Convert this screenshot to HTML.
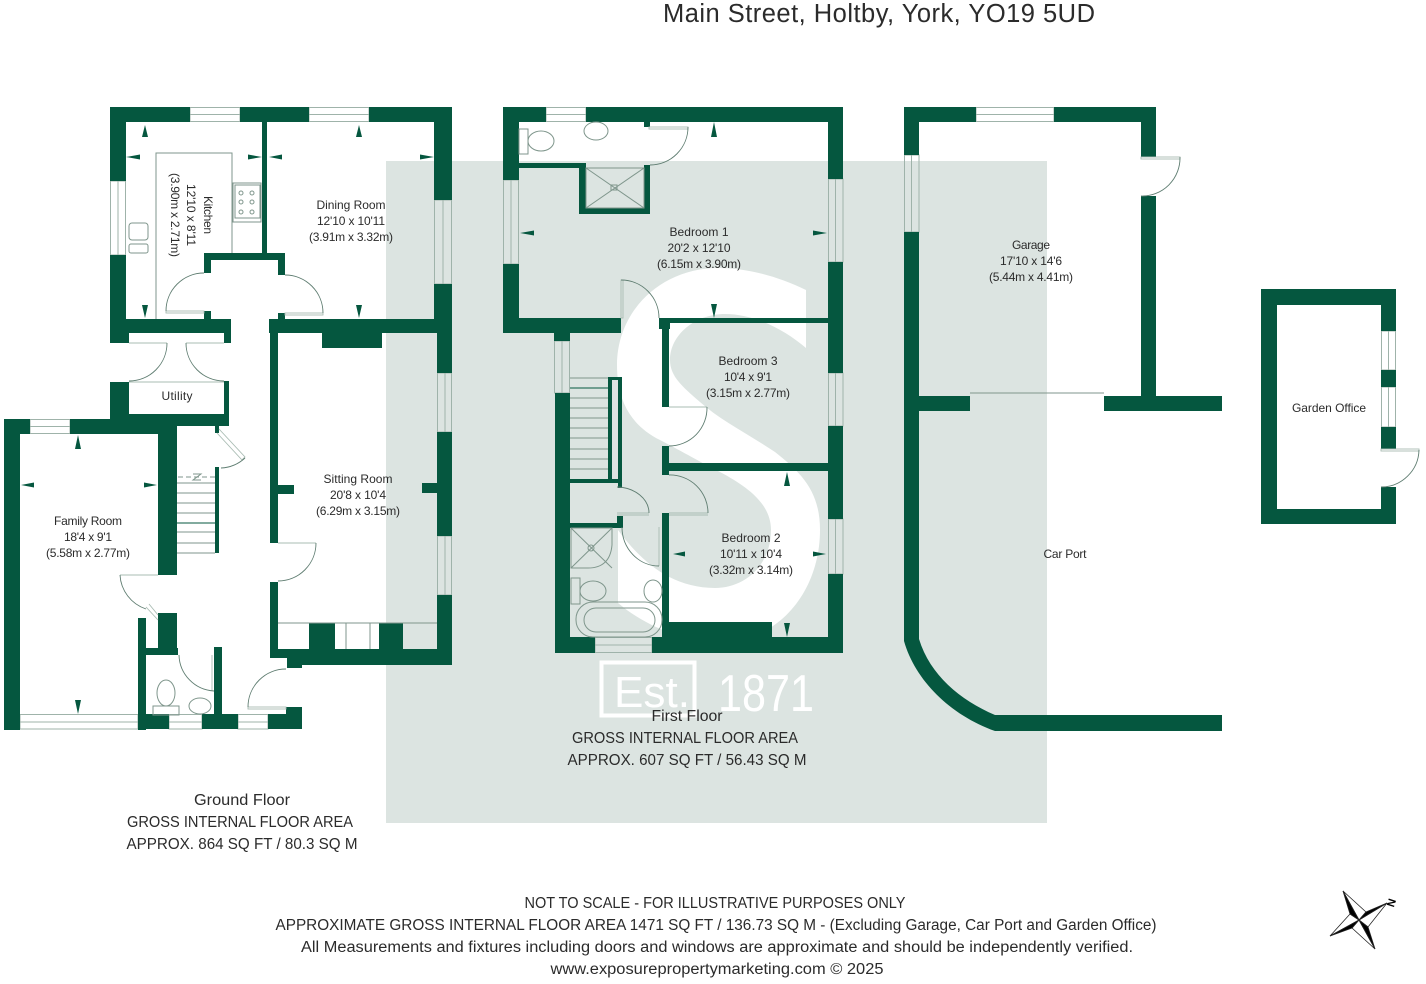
<!DOCTYPE html>
<html lang="en">
<head>
<meta charset="utf-8">
<title>Main Street, Holtby, York, YO19 5UD</title>
<style>
html,body{margin:0;padding:0;background:#fff;width:1426px;height:984px;overflow:hidden}
svg{display:block}
text{font-family:"Liberation Sans",sans-serif;fill:#2b2b2b;text-anchor:middle}
.r{font-size:12px}
.b{font-size:15.5px}
.t{fill:none;stroke:#7f968c;stroke-width:1}
.d{fill:none;stroke:#5f7d71;stroke-width:.9}
.l{fill:none;stroke:#a9bcb3;stroke-width:.9}
.w{fill:none;stroke:#9fb3aa;stroke-width:1}
</style>
</head>
<body>
<svg width="1426" height="984" viewBox="0 0 1426 984" xmlns="http://www.w3.org/2000/svg">
<rect width="1426" height="984" fill="#fff"/>
<rect x="386" y="161" width="661" height="662" fill="#dce4e1"/>

<!-- S watermark -->
<path fill="#fff" d="M806 290 C775 275 745 268 718 268 C662 268 617 310 617 365 C617 400 630 425 660 440 C685 453 700 462 720 472 C750 488 771 505 771 530 C771 565 745 588 715 588 C670 588 640 560 618 530 L618 603 C650 630 690 642 720 642 C780 642 820 590 820 530 C820 490 800 472 775 452 C745 432 720 420 700 402 C680 385 670 375 670 360 C670 335 695 314 725 314 C755 314 785 330 806 348 Z"/>
<rect x="601.500" y="662.500" width="93" height="53" fill="none" stroke="#fff" stroke-width="4"/>
<text x="652" y="707" font-size="44" textLength="76" lengthAdjust="spacingAndGlyphs" style="fill:#fff">Est.</text>
<text x="766" y="711" font-size="52" textLength="96" lengthAdjust="spacingAndGlyphs" style="fill:#fff">1871</text>

<!-- window frames -->
<g class="w">
<rect x="190" y="107.500" width="50" height="14"/><rect x="309" y="107.500" width="60" height="14"/>
<rect x="110.500" y="181" width="15" height="74"/>
<rect x="434.500" y="200" width="17" height="84"/>
<rect x="437.500" y="373" width="14" height="59"/><rect x="437.500" y="536" width="14" height="59"/>
<rect x="30" y="419.500" width="40" height="14"/>
<rect x="20" y="714.500" width="118" height="14.500"/>
<rect x="169" y="714.500" width="33" height="14.500"/><rect x="238" y="714.500" width="30" height="14.500"/>
<rect x="546" y="107.500" width="40" height="14"/>
<rect x="503.500" y="180" width="15" height="84"/>
<rect x="828.500" y="179" width="14.500" height="83"/><rect x="828.500" y="373" width="14.500" height="53"/><rect x="828.500" y="519" width="14.500" height="55"/>
<rect x="554.500" y="341" width="15" height="52"/>
<rect x="595" y="637.500" width="57" height="15"/>
<rect x="976" y="107.500" width="78" height="14"/>
<rect x="904.500" y="155" width="14.500" height="77"/>
<rect x="1381.500" y="331" width="14" height="39"/><rect x="1381.500" y="387" width="14" height="40"/>
</g>
<path class="w" d="M190 114.500H240M309 114.500H369M118 181V255M443 200V284M445 373V432M445 536V595M30 426.500H70M20 722H138M169 722H202M238 722H268M546 114.500H586M511 180V264M835.500 179V262M835.500 373V426M835.500 519V574M562 341V393M595 645H652M976 114.500H1054M911.500 155V232M1388.500 331V370M1388.500 387V427"/>

<!-- walls -->
<g fill="#05573f">
<!-- ground: kitchen/dining -->
<rect x="110" y="107" width="80" height="15"/><rect x="240" y="107" width="69" height="15"/><rect x="369" y="107" width="83" height="15"/>
<rect x="110" y="107" width="16" height="74"/><rect x="110" y="255" width="16" height="88"/><rect x="110" y="333" width="19" height="10"/>
<rect x="262" y="122" width="5" height="132"/>
<rect x="204" y="253" width="81" height="7"/><rect x="204" y="253" width="7" height="20"/><rect x="278" y="253" width="7" height="22"/>
<rect x="110" y="319" width="121" height="14"/><rect x="269" y="319" width="183" height="14"/>
<rect x="224" y="333" width="7" height="10"/>
<rect x="204" y="311" width="7" height="8"/><rect x="278" y="313" width="7" height="6"/>
<rect x="322" y="333" width="60" height="15"/>
<rect x="434" y="107" width="18" height="93"/><rect x="434" y="284" width="18" height="49"/>
<rect x="437" y="333" width="15" height="40"/><rect x="437" y="432" width="15" height="104"/><rect x="437" y="595" width="15" height="70"/>
<rect x="422" y="483" width="15" height="10"/>
<!-- sitting -->
<rect x="270" y="333" width="8" height="210"/><rect x="270" y="582" width="8" height="76"/>
<rect x="278" y="485" width="16" height="9"/>
<rect x="270" y="649" width="182" height="9"/><rect x="287" y="658" width="165" height="7"/><rect x="287" y="658" width="15" height="10"/>
<rect x="309" y="623" width="26" height="26"/><rect x="379" y="623" width="24" height="26"/>
<!-- utility -->
<rect x="110" y="382" width="19" height="44"/><rect x="224" y="381" width="5" height="45"/>
<rect x="110" y="414" width="119" height="12"/>
<!-- family -->
<rect x="4" y="419" width="26" height="15"/><rect x="70" y="419" width="107" height="15"/>
<rect x="4" y="419" width="16" height="311"/>
<rect x="158" y="426" width="19" height="149"/>
<rect x="215" y="426" width="4" height="7"/><rect x="215" y="467" width="4" height="86"/>
<rect x="138" y="618" width="8" height="112"/>
<rect x="158" y="613" width="19" height="42"/><rect x="146" y="648" width="32" height="7"/>
<rect x="138" y="714" width="31" height="15"/><rect x="202" y="714" width="36" height="15"/><rect x="268" y="714" width="34" height="15"/>
<rect x="286" y="707" width="16" height="8"/>
<rect x="214" y="647" width="8" height="67"/>
<!-- first floor -->
<rect x="503" y="107" width="43" height="15"/><rect x="586" y="107" width="257" height="15"/>
<rect x="503" y="107" width="16" height="73"/><rect x="503" y="264" width="16" height="69"/>
<rect x="503" y="318" width="118" height="15"/><rect x="554" y="333" width="16" height="8"/>
<rect x="828" y="107" width="15" height="72"/><rect x="828" y="262" width="15" height="111"/><rect x="828" y="426" width="15" height="93"/><rect x="828" y="574" width="15" height="79"/>
<rect x="519" y="163" width="67" height="5"/>
<rect x="579" y="163" width="7" height="51"/><rect x="579" y="208" width="71" height="6"/><rect x="644" y="165" width="6" height="49"/>
<rect x="644" y="122" width="6" height="5"/>
<rect x="659" y="318" width="169" height="5"/><rect x="659" y="318" width="11" height="11"/>
<rect x="662" y="318" width="7" height="89"/><rect x="662" y="446" width="7" height="29"/>
<rect x="662" y="463" width="166" height="8"/>
<rect x="662" y="513" width="7" height="140"/>
<rect x="556" y="637" width="39" height="16"/><rect x="652" y="637" width="191" height="16"/>
<rect x="669" y="622" width="103" height="15"/>
<rect x="555" y="393" width="15" height="260"/>
<rect x="608" y="377" width="14" height="3"/><rect x="608" y="377" width="4" height="106"/><rect x="618" y="377" width="4" height="111"/>
<rect x="570" y="479" width="52" height="4"/>
<rect x="617" y="516" width="6" height="12"/><rect x="570" y="523" width="53" height="5"/>
<!-- garage / car port -->
<rect x="904" y="107" width="72" height="15"/><rect x="1054" y="107" width="102" height="15"/>
<rect x="904" y="107" width="15" height="48"/><rect x="1141" y="107" width="15" height="50"/><rect x="1141" y="196" width="15" height="202"/>
<rect x="904" y="232" width="15" height="180"/>
<rect x="904" y="396" width="66" height="15"/><rect x="1104" y="396" width="118" height="15"/>
<path d="M904 411V641C915 680 950 715 995 731H1222V715H995C960 700 930 675 919 639V411Z"/>
<!-- garden office -->
<path fill-rule="evenodd" d="M1261 289H1396V331H1381V305H1277V509H1381V487H1396V524H1261Z"/>
<rect x="1381" y="370" width="15" height="17"/><rect x="1381" y="427" width="15" height="22"/>
<!-- arrows -->
<path d="M145 125l3 12h-6zM145 318l3-13h-6zM126 157l14-2.500v5zM262 157l-14-2.500v5zM269 157l13-2.500v5zM434 157l-14-2.500v5zM359 125l3 12h-6zM359 318l3-13h-6z"/>
<path d="M78 435l3 14h-6zM78 714l3-14h-6zM21 485l13-2.500v5zM157 485l-13-2.500v5z"/>
<path d="M714 122l3 15h-6zM714 318l3-14h-6zM520 233l14-2.500v5zM827 233l-14-2.500v5z"/>
<path d="M787 472l3 14h-6zM787 637l3-14h-6zM673 554l12-2.500v5zM826 554l-13-2.500v5z"/>
</g>

<!-- door leaves -->
<g class="l">
<rect x="166" y="311" width="38" height="2"/>
<rect x="285" y="313" width="38" height="2"/>
<path d="M129 343H167M186 343H224M129 382H224"/>
<path d="M219 429L245 457L242 460L217 433"/>
<path d="M120 575H158M146 607L158 620M149 604L158 615"/>
<path d="M278 543H316"/>
<rect x="248" y="707" width="38" height="2"/>
<path d="M212 655V691"/>
<rect x="649" y="127" width="39" height="2"/>
<rect x="621" y="280" width="2" height="38"/>
<path d="M669 407H707M669 513H708M669 515H708M617 513H649M617 515H649M659 527V566"/>
<rect x="1141" y="157" width="39" height="2"/>
<rect x="1381" y="449" width="38" height="2"/>
</g>
<!-- door swings -->
<g class="d">
<path d="M204 273A38 38 0 0 0 166 311"/>
<path d="M285 275A38 38 0 0 1 323 313"/>
<path d="M167 343A38 38 0 0 1 129 381"/><path d="M186 343A38 38 0 0 0 224 381"/>
<path d="M245 458A38 38 0 0 1 221 468"/>
<path d="M120 575A38 38 0 0 0 146 609"/>
<path d="M316 543A38 38 0 0 1 278 581"/>
<path d="M248 707A38 38 0 0 1 286 669"/>
<path d="M179 655A37 37 0 0 0 214 691"/>
<path d="M688 127A38 38 0 0 1 650 165"/>
<path d="M621 280A38 38 0 0 1 659 318"/>
<path d="M707 407A38 38 0 0 1 669 446"/>
<path d="M669 475A38 38 0 0 1 708 513"/>
<path d="M617 487A33 26 0 0 1 649 513"/>
<path d="M622 527A37 39 0 0 0 659 566"/>
<path d="M1180 157A38 38 0 0 1 1141 196"/>
<path d="M1419 450A38 38 0 0 1 1381 487"/>
</g>

<!-- fixtures -->
<g class="t">
<path d="M156 319V153H232V253"/>
<rect x="233" y="183" width="28" height="39"/><rect x="235" y="185" width="25" height="33"/>
<circle cx="241" cy="193" r="2"/><circle cx="252" cy="193" r="2"/><circle cx="241" cy="202" r="2"/><circle cx="252" cy="202" r="2"/><circle cx="241" cy="212" r="2"/><circle cx="252" cy="212" r="2"/>
<rect x="129" y="223" width="19" height="17" rx="3"/><rect x="129" y="244" width="19" height="9" rx="2"/>
<path d="M278 623H437M346 623V649M370 623V649"/>
<path d="M177 483H215M177 493H215M177 503H215M177 513H215M177 532H215M177 543H215M177 553H215"/>
<path stroke-dasharray="5 3" d="M178 477L215 477"/>
<path d="M193 474H201L193 480H201"/>
<ellipse cx="166" cy="693" rx="9" ry="13"/><rect x="153" y="706" width="26" height="9"/>
<ellipse cx="200" cy="706" rx="11" ry="8"/>
<rect x="519" y="129" width="9" height="25"/><ellipse cx="541" cy="141" rx="13" ry="10"/>
<ellipse cx="596" cy="131" rx="12" ry="9"/>
<rect x="586" y="168" width="58" height="40"/><path d="M586 168L644 208M644 168L586 208"/><rect x="611" y="185" width="6" height="5"/>
<path d="M570 378H608M570 398H608M570 408H608M570 418H608M570 428H608M570 438H608M570 449H608M570 459H608M570 469H608"/>
<path d="M571 528H612V545Q610 568 588 568H571Z"/><path d="M571 528L612 568M612 528L571 568"/><circle cx="591" cy="548" r="3"/>
<rect x="571" y="578" width="9" height="26"/><ellipse cx="593" cy="591" rx="13" ry="10"/>
<ellipse cx="653" cy="591" rx="9" ry="11"/>
<rect x="576" y="602" width="86" height="35" rx="17"/><rect x="584" y="608" width="71" height="24" rx="12"/>
<path d="M970 393H1104"/>
</g>
<path stroke="#05573f" stroke-width="1" d="M177 523H215M570 388H608"/>

<!-- room labels -->
<g class="r">
<g transform="translate(208 215) rotate(90)"><text y="4" textLength="38">Kitchen</text></g>
<g transform="translate(191 215) rotate(90)"><text y="4" textLength="62">12'10 x 8'11</text></g>
<g transform="translate(175 215) rotate(90)"><text y="4" textLength="84">(3.90m x 2.71m)</text></g>
<text x="351" y="209" textLength="69">Dining Room</text><text x="351" y="225" textLength="68">12'10 x 10'11</text><text x="351" y="241" textLength="84">(3.91m x 3.32m)</text>
<text x="177" y="400" textLength="31">Utility</text>
<text x="358" y="483" textLength="69">Sitting Room</text><text x="358" y="499" textLength="56">20'8 x 10'4</text><text x="358" y="515" textLength="84">(6.29m x 3.15m)</text>
<text x="88" y="525" textLength="68">Family Room</text><text x="88" y="541" textLength="48">18'4 x 9'1</text><text x="88" y="557" textLength="84">(5.58m x 2.77m)</text>
<text x="699" y="236" textLength="59">Bedroom 1</text><text x="699" y="252" textLength="63">20'2 x 12'10</text><text x="699" y="268" textLength="84">(6.15m x 3.90m)</text>
<text x="748" y="365" textLength="59">Bedroom 3</text><text x="748" y="381" textLength="48">10'4 x 9'1</text><text x="748" y="397" textLength="84">(3.15m x 2.77m)</text>
<text x="751" y="542" textLength="59">Bedroom 2</text><text x="751" y="558" textLength="62">10'11 x 10'4</text><text x="751" y="574" textLength="84">(3.32m x 3.14m)</text>
<text x="1031" y="249" textLength="38">Garage</text><text x="1031" y="265" textLength="62">17'10 x 14'6</text><text x="1031" y="281" textLength="84">(5.44m x 4.41m)</text>
<text x="1065" y="558" textLength="43">Car Port</text>
<text x="1329" y="412" textLength="74">Garden Office</text>
</g>

<!-- title and notes -->
<text x="879" y="22" font-size="25.500" textLength="432">Main Street, Holtby, York, YO19 5UD</text>
<g class="b">
<text x="242" y="805" textLength="96" lengthAdjust="spacingAndGlyphs">Ground Floor</text>
<text x="240" y="827" textLength="226" lengthAdjust="spacingAndGlyphs">GROSS INTERNAL FLOOR AREA</text>
<text x="242" y="849" textLength="231" lengthAdjust="spacingAndGlyphs">APPROX. 864 SQ FT / 80.3 SQ M</text>
<text x="687" y="721" textLength="71" lengthAdjust="spacingAndGlyphs">First Floor</text>
<text x="685" y="743" textLength="226" lengthAdjust="spacingAndGlyphs">GROSS INTERNAL FLOOR AREA</text>
<text x="687" y="765" textLength="239" lengthAdjust="spacingAndGlyphs">APPROX. 607 SQ FT / 56.43 SQ M</text>
<text x="715" y="908" textLength="381" lengthAdjust="spacingAndGlyphs">NOT TO SCALE - FOR ILLUSTRATIVE PURPOSES ONLY</text>
<text x="716" y="930" textLength="881" lengthAdjust="spacingAndGlyphs">APPROXIMATE GROSS INTERNAL FLOOR AREA 1471 SQ FT / 136.73 SQ M - (Excluding Garage, Car Port and Garden Office)</text>
<text x="717" y="952" textLength="832" lengthAdjust="spacingAndGlyphs">All Measurements and fixtures including doors and windows are approximate and should be independently verified.</text>
<text x="717" y="974" textLength="333" lengthAdjust="spacingAndGlyphs">www.exposurepropertymarketing.com © 2025</text>
</g>

<!-- compass -->
<g stroke="#222" stroke-width=".8" stroke-linejoin="miter">
<path fill="#fff" d="M1359 920L1343 891L1366 912ZM1359 920L1387 903L1368 927ZM1359 920L1375 949L1352 928ZM1359 920L1330 936L1350 914Z"/>
<path fill="#000" d="M1359 920L1343 891L1350 914ZM1359 920L1387 903L1366 912ZM1359 920L1375 949L1368 927ZM1359 920L1330 936L1352 928Z"/>
</g>
<text transform="translate(1395 904) rotate(-72)" font-size="11" font-weight="bold" style="fill:#000">N</text>
</svg>
</body>
</html>
